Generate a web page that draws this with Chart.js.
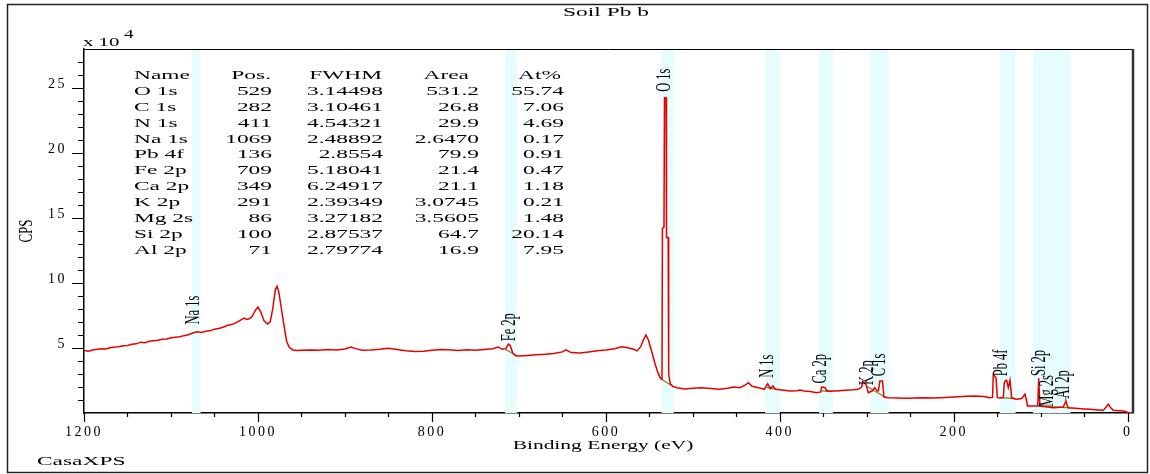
<!DOCTYPE html>
<html>
<head>
<meta charset="utf-8">
<title>Soil Pb b</title>
<script src="https://cdn.jsdelivr.net/npm/chart.js@4.4.1/dist/chart.umd.min.js"></script>
<style>
  html, body { margin: 0; padding: 0; background: #fff; }
  #wrap { position: relative; width: 1150px; height: 474px; }
</style>
</head>
<body>
<div id="wrap"><canvas id="xps"></canvas></div>
<script>
'use strict';

// ── Survey spectrum (binding energy in eV, counts per second) ─────────
const bindingEnergy = [
  1200, 1195, 1190, 1185, 1180, 1175, 1170, 1165, 1160, 1155, 1150, 1145, 1140, 1135, 1130,
  1125, 1120, 1115, 1110, 1105, 1100, 1095, 1090, 1085, 1080, 1075, 1070, 1065, 1060, 1055,
  1050, 1045, 1040, 1035, 1030, 1025, 1020, 1016, 1013, 1010, 1007, 1003, 1000, 997, 993,
  989, 986, 983, 980, 978, 976, 973, 970, 967, 964, 960, 955, 950, 940, 930,
  920, 910, 900, 893, 888, 880, 870, 860, 850, 840, 830, 820, 810, 800, 790,
  780, 770, 760, 750, 740, 730, 724, 719, 715, 712, 710, 707, 704, 700, 690,
  680, 670, 660, 650, 646, 640, 630, 620, 610, 600, 590, 582, 575, 568, 564,
  560, 557, 554, 551, 547, 544, 541, 538, 536, 535.5, 535, 533.2, 532.6, 530.8, 530.3,
  528.4, 527.8, 526, 523, 518, 510, 500, 490, 480, 470, 460, 453, 446, 440, 436,
  432, 425, 418, 414, 411, 408, 405, 395, 388, 380, 377, 372, 365, 358, 353,
  352, 350, 348, 346, 340, 335, 325, 315, 310, 306, 304.8, 301, 298.3, 294, 291,
  288, 286.8, 285, 282, 280.3, 275, 265, 254, 245, 235, 225, 216, 205, 195, 185,
  177.6, 170, 163, 160.4, 155.5, 154.6, 151.5, 150, 147, 143.1, 142, 140.5, 139.2, 137.4, 135.4,
  133.5, 130, 127.7, 122, 118.2, 116, 115.5, 108.6, 103.5, 102.4, 101, 95, 90, 85.7, 78,
  74.2, 72, 71.1, 69.5, 68.4, 60, 50, 43.5, 35, 28.2, 25, 22.4, 19.5, 16.7, 10,
  5.2, 2, -0.6, -6
];
const counts = [
  48000, 47500, 48500, 49000, 49500, 49200, 50200, 50800, 51000, 51800, 52000, 52800, 53200, 54500, 54000,
  55200, 55600, 56000, 56800, 57000, 57800, 58200, 58600, 59500, 60200, 61500, 62500, 62000, 62800, 63200,
  64500, 65000, 66000, 67500, 68000, 69500, 71500, 73000, 72000, 72500, 74000, 79000, 81500, 78000, 71000,
  68500, 70000, 80000, 95000, 97500, 93000, 80000, 67000, 55000, 50500, 48500, 48000, 48300, 48500, 48200,
  48800, 48500, 49200, 50800, 49500, 48300, 48500, 49000, 49800, 48800, 47800, 47300, 47500, 48200, 48800,
  48600, 48000, 48700, 48200, 48900, 49500, 50800, 49000, 49500, 53000, 52000, 46000, 44000, 43800, 44300,
  44800, 45200, 45800, 47000, 48500, 46500, 46200, 47000, 47800, 48500, 49500, 51000, 50200, 49000, 47800,
  51000, 56000, 60000, 56000, 46500, 39000, 32500, 27500, 26000, 28000, 142000, 143000, 242500, 242500, 135000,
  135000, 30000, 22500, 20500, 19500, 18500, 19000, 19500, 18800, 18200, 19000, 20000, 19500, 21500, 23300,
  20500, 19500, 18200, 22500, 18700, 20800, 18200, 17500, 16900, 17200, 17700, 17000, 16500, 15600, 16200,
  20000, 19800, 19500, 17000, 16900, 16900, 17500, 17800, 18200, 20000, 24100, 22000, 15600, 16900, 19500,
  17000, 16900, 24600, 24600, 12300, 11800, 11500, 11300, 11600, 11800, 11500, 11800, 12200, 12500, 12800,
  13100, 12900, 12500, 11800, 12000, 29700, 27200, 11800, 11500, 11800, 23300, 25000, 25100, 19500, 25100,
  11800, 11000, 10500, 11200, 14400, 8500, 5400, 5400, 5400, 26700, 5400, 4800, 4500, 4100, 4400,
  4600, 8000, 9200, 5500, 4100, 3600, 3100, 2800, 2400, 2100, 4500, 6700, 4000, 2100, 1800,
  1500, 900, 300, 0
];

// ── Fitted backgrounds under the peak regions (null = gap) ────────────
const backgroundEnergy = [716, 702, 701, 536, 522, 521, 415, 402, 401, 352, 340, 339, 301, 278, 277, 147, 129, 128, 103, 66];
const backgroundCounts = [49000, 44000, null, 26000, 20000, null, 19500, 18000, null, 17000, 16500, null, 21000, 11800, null, 12000, 10800, null, 5500, 4000];

// ── Peak annotations (label centre, eV / CPS) ─────────────────────────
const peakNames = ['Na 1s', 'Fe 2p', 'O 1s', 'N 1s', 'Ca 2p', 'K 2p', 'C 1s', 'Pb 4f', 'Si 2p', 'Mg 2s', 'Al 2p'];
const peakLabelEnergy = [1073.5, 710.3, 532.7, 413.7, 352.7, 298.7, 284.9, 144.6, 100.9, 91.7, 73.3];
const peakLabelCounts = [79200, 66000, 256000, 36000, 34000, 31000, 37000, 38500, 38500, 17000, 22000];

// ── Shaded peak regions (eV) ──────────────────────────────────────────
const regionStart = [1076, 716, 536, 417, 355, 296, 147, 109];
const regionEnd = [1066, 702, 522, 400, 339, 275, 129, 66];

// ── Quantification table ──────────────────────────────────────────────
const tableHeader = ['Name', 'Pos.', 'FWHM', 'Area', 'At%'];
const tableNames = ['O 1s', 'C 1s', 'N 1s', 'Na 1s', 'Pb 4f', 'Fe 2p', 'Ca 2p', 'K 2p', 'Mg 2s', 'Si 2p', 'Al 2p'];
const tablePos = ['529', '282', '411', '1069', '136', '709', '349', '291', '86', '100', '71'];
const tableFwhm = ['3.14498', '3.10461', '4.54321', '2.48892', '2.8554', '5.18041', '6.24917', '2.39349', '3.27182', '2.87537', '2.79774'];
const tableArea = ['531.2', '26.8', '29.9', '2.6470', '79.9', '21.4', '21.1', '3.0745', '3.5605', '64.7', '16.9'];
const tableAtPct = ['55.74', '7.06', '4.69', '0.17', '0.91', '0.47', '1.18', '0.21', '1.48', '20.14', '7.95'];

// ── Axis ticks ────────────────────────────────────────────────────────
const xMajorTicks = [1200, 1000, 800, 600, 400, 200, 0];
const xMinorStep = 50;
const yMajorTicks = [5, 10, 15, 20, 25];      // x 10^4
const yMinorStep = 1;                         // x 10^4
const yTopTick = 27;

const SERIF = '"Liberation Serif", "Times New Roman", serif';

// draw text stretched horizontally, like the original bitmap export
function wideText(ctx, text, x, y, o) {
    ctx.save();
    ctx.letterSpacing = '0px';
    ctx.font = (o.size || 13) + 'px ' + SERIF;
    ctx.fillStyle = '#000';
    ctx.textAlign = o.align || 'left';
    ctx.textBaseline = 'middle';
    ctx.translate(x, y);
    ctx.scale(o.sx || 1.8, 1);
    if (o.rotate) ctx.rotate(-Math.PI / 2);
    ctx.fillText(text, 0, 0);
    ctx.restore();
}

const casaPlugin = {
    id: 'casa',
    beforeDraw(chart) {
        chart.ctx.letterSpacing = '2.5px';
    },
    beforeDatasetsDraw(chart) {
        const { ctx, chartArea: a, scales: { x } } = chart;
        ctx.save();
        ctx.fillStyle = '#e6fcfd';
        regionStart.forEach((s, i) => {
            const p1 = x.getPixelForValue(s);
            const p2 = x.getPixelForValue(regionEnd[i]);
            ctx.fillRect(Math.min(p1, p2), a.top, Math.abs(p2 - p1), a.bottom - a.top);
        });
        ctx.restore();
    },
    afterDatasetsDraw(chart) {
        const { ctx, scales: { x, y } } = chart;
        // peak labels
        peakNames.forEach((name, i) => {
            wideText(ctx, name, x.getPixelForValue(peakLabelEnergy[i]), y.getPixelForValue(peakLabelCounts[i]),
                { size: 12.5, sx: 1.6, align: 'center', rotate: true });
        });
        // table
        const rowY = (r) => 75.5 + r * 15.9;
        wideText(ctx, tableHeader[0], 134, rowY(0), {});
        wideText(ctx, tableHeader[1], 271, rowY(0), { align: 'right' });
        wideText(ctx, tableHeader[2], 382, rowY(0), { align: 'right' });
        wideText(ctx, tableHeader[3], 469, rowY(0), { align: 'right' });
        wideText(ctx, tableHeader[4], 561, rowY(0), { align: 'right' });
        tableNames.forEach((n, i) => {
            const yy = rowY(i + 1);
            wideText(ctx, n, 134, yy, {});
            wideText(ctx, tablePos[i], 272, yy, { align: 'right' });
            wideText(ctx, tableFwhm[i], 383, yy, { align: 'right' });
            wideText(ctx, tableArea[i], 479, yy, { align: 'right' });
            wideText(ctx, tableAtPct[i], 564, yy, { align: 'right' });
        });
    },
    afterDraw(chart) {
        const { ctx, chartArea: a, scales: { x, y } } = chart;
        ctx.save();
        ctx.letterSpacing = '0px';
        ctx.strokeStyle = '#000';
        ctx.lineWidth = 1.2;
        ctx.beginPath();
        x.ticks.forEach(t => {
            const px = Math.round(x.getPixelForValue(t.value)) + 0.5;
            const len = xMajorTicks.includes(t.value) ? 9 : 4;
            ctx.moveTo(px, a.bottom);
            ctx.lineTo(px, a.bottom + len);
        });
        y.ticks.forEach(t => {
            const py = Math.round(y.getPixelForValue(t.value)) + 0.5;
            const len = yMajorTicks.includes(t.value / 1e4) ? 12 : 6;
            ctx.moveTo(a.left - len, py);
            ctx.lineTo(a.left, py);
        });
        ctx.stroke();

        // plot frame: top and right
        ctx.lineWidth = 1;
        ctx.beginPath();
        ctx.moveTo(a.left, a.top + 0.5);
        ctx.lineTo(a.right, a.top + 0.5);
        ctx.stroke();
        ctx.strokeStyle = '#333';
        ctx.lineWidth = 2.5;
        ctx.beginPath();
        ctx.moveTo(a.right, a.top);
        ctx.lineTo(a.right, a.bottom);
        ctx.stroke();

        // outer frame
        ctx.strokeStyle = '#222';
        ctx.lineWidth = 1.5;
        ctx.strokeRect(7.5, 4.5, 1140, 468);
        ctx.restore();

        // titles
        wideText(ctx, 'Soil Pb b', 606, 13, { sx: 1.8, align: 'center' });
        wideText(ctx, 'Binding Energy (eV)', 603, 446, { size: 13, sx: 1.65, align: 'center' });
        wideText(ctx, 'CasaXPS', 37, 462, { sx: 1.8 });
        wideText(ctx, 'CPS', 27, 231, { sx: 1.45, align: 'center', rotate: true });
        wideText(ctx, 'x 10', 83, 43, { sx: 1.6 });
        wideText(ctx, '4', 124, 35, { size: 12, sx: 1.6 });
    }
};

const xTickValues = [];
for (let v = 0; v <= 1200; v += xMinorStep) xTickValues.push(v);
const yTickValues = [];
for (let v = yMinorStep; v <= yTopTick; v += yMinorStep) yTickValues.push(v * 1e4);

const spectrum = bindingEnergy.map((e, i) => ({ x: e, y: counts[i] }));
const background = backgroundEnergy.map((e, i) => ({ x: e, y: backgroundCounts[i] }));

new Chart(document.getElementById('xps'), {
    type: 'line',
    data: {
        datasets: [{
            label: 'Soil Pb b',
            data: spectrum,
            borderColor: 'rgb(228, 0, 0)',
            borderWidth: 1.5,
            pointRadius: 0,
            tension: 0,
            fill: false,
        }, {
            label: 'Background',
            data: background,
            borderColor: 'rgb(140, 120, 30)',
            borderWidth: 1.2,
            pointRadius: 0,
            tension: 0,
            fill: false,
            spanGaps: false,
        }],
    },
    options: {
        responsive: true,
        maintainAspectRatio: false,
        animation: false,
        layout: { padding: { left: 0, top: 49, right: 17, bottom: 0 } },
        plugins: {
            legend: { display: false },
            tooltip: { enabled: false },
        },
        scales: {
            x: {
                type: 'linear',
                reverse: true,
                min: -6,
                max: 1200,
                afterBuildTicks: (scale) => { scale.ticks = xTickValues.map(v => ({ value: v })); },
                afterFit: (scale) => { scale.height = 61; },
                grid: { display: false, drawTicks: false },
                border: { display: true, color: '#000', width: 1.5 },
                ticks: {
                    autoSkip: false,
                    maxRotation: 0,
                    minRotation: 0,
                    padding: 11,
                    color: '#000',
                    font: { family: SERIF, size: 14 },
                    callback: (v) => xMajorTicks.includes(v) ? String(v) : '',
                },
            },
            y: {
                min: 0,
                max: 280000,
                afterBuildTicks: (scale) => { scale.ticks = yTickValues.map(v => ({ value: v })); },
                afterFit: (scale) => { scale.width = 84; },
                grid: { display: false, drawTicks: false },
                border: { display: true, color: '#000', width: 1.5 },
                ticks: {
                    autoSkip: false,
                    padding: 17,
                    labelOffset: -4,
                    color: '#000',
                    font: { family: SERIF, size: 14 },
                    callback: (v) => yMajorTicks.includes(v / 1e4) ? String(v / 1e4) : '',
                },
            },
        },
    },
    plugins: [casaPlugin],
});
</script>
</body>
</html>
